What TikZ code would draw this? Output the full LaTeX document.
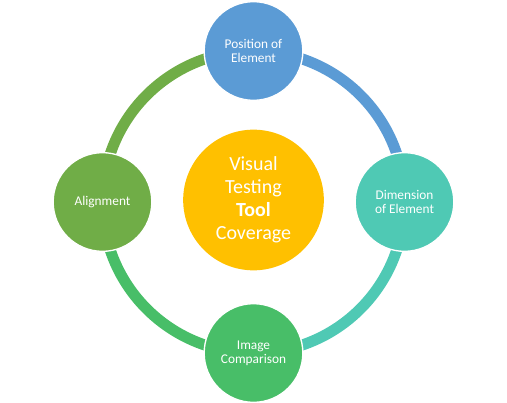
\documentclass[tikz,border=0pt]{standalone}
\usepackage{fontspec}
\setmainfont{Carlito}
\usetikzlibrary{positioning, backgrounds}
\definecolor{ringBlue}{RGB}{91, 155, 213}
\definecolor{ringTeal}{RGB}{79, 201, 180}
\definecolor{ringGreen}{RGB}{72, 190, 104}
\definecolor{ringOlive}{RGB}{112, 173, 71}
\definecolor{hubGold}{RGB}{255, 192, 0}

\begin{document}
\begin{tikzpicture}[x=0.75pt, y=-0.75pt,
    spoke/.style={circle, draw=white, line width=1pt, inner sep=0pt,
      minimum size=74pt, text=white, align=center,
      font=\fontsize{10}{10.8}\selectfont},
    hub/.style={circle, inner sep=0pt, minimum size=105.5pt, text=white,
      align=center, fill=hubGold, font=\fontsize{15}{17.3}\selectfont},
    ring/.style={line width=8.25pt},
  ]
    \useasboundingbox (0,0) rectangle (507,403);

    \node[hub] (tool) at (253.5,200) {Visual\\Testing\\\textbf{Tool}\\Coverage};
    \node[spoke, fill=ringBlue] (pos) at (253.5,51) {Position of\\Element};
    \node[spoke, fill=ringTeal] (dim) at (404.5,202) {Dimension\\of Element};
    \node[spoke, fill=ringGreen] (img) at (253.5,353) {Image\\Comparison};
    \node[spoke, fill=ringOlive] (align) at (102.5,202) {Alignment};

    \begin{scope}[on background layer]
      \draw[ring, ringBlue] (pos.center) to[bend left=45] (dim.center);
      \draw[ring, ringTeal] (dim.center) to[bend left=45] (img.center);
      \draw[ring, ringGreen] (img.center) to[bend left=45] (align.center);
      \draw[ring, ringOlive] (align.center) to[bend left=45] (pos.center);
    \end{scope}
  \end{tikzpicture}
\end{document}
